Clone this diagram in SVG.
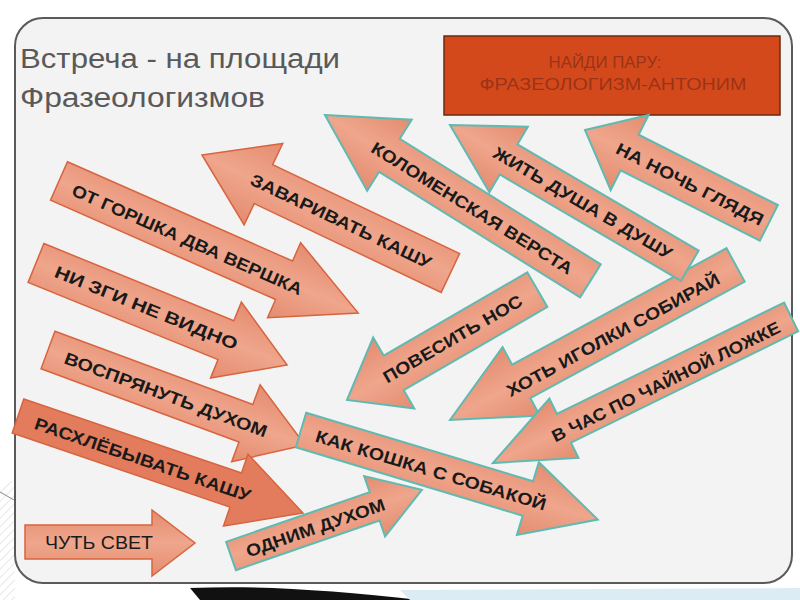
<svg xmlns="http://www.w3.org/2000/svg" width="800" height="600" viewBox="0 0 800 600">
<defs>
<linearGradient id="g" x1="0" y1="0" x2="0" y2="1">
<stop offset="0" stop-color="#e48c70"/><stop offset="0.5" stop-color="#efa68c"/><stop offset="1" stop-color="#e48c70"/>
</linearGradient>
<pattern id="hatch" width="6" height="6" patternUnits="userSpaceOnUse" patternTransform="rotate(45)">
<line x1="0" y1="0" x2="0" y2="6" stroke="#d0d0d0" stroke-width="1"/>
</pattern>
</defs>
<style>
.ao{fill:url(#g);stroke:#d8643f;stroke-width:1.5}
.at{fill:url(#g);stroke:#5fbab2;stroke-width:2}
.lbl{font-family:"Liberation Sans",Arial,sans-serif;font-weight:bold;font-size:17px;fill:#1a1a1a;text-anchor:middle}
.title{font-family:"Liberation Sans",Arial,sans-serif;font-size:27px;fill:#595959}
.box{font-family:"Liberation Sans",Arial,sans-serif;font-size:16px;fill:#9a3418;text-anchor:middle}
</style>
<rect width="800" height="600" fill="#ffffff"/>
<path d="M0,485 L15,480 L15,600 L0,600 Z" fill="url(#hatch)"/>
<path d="M0,492 L14,500" stroke="#888" stroke-width="1"/>
<path d="M190,588 C260,585 330,590 420,600 L200,600 Z" fill="#111"/>
<path d="M400,590 L800,588 L800,600 L410,600 Z" fill="#dcecf4"/>
<rect x="15" y="18" width="777" height="565" rx="28" ry="28" fill="#f3f3f3" stroke="#5a5a5a" stroke-width="2"/>
<text class="title" x="20" y="68" textLength="320" lengthAdjust="spacingAndGlyphs">Встреча - на площади</text>
<text class="title" x="20" y="107" textLength="245" lengthAdjust="spacingAndGlyphs">Фразеологизмов</text>
<g id="task">
<rect x="444" y="36" width="336" height="79" fill="#d4491b" stroke="#6b2a10" stroke-width="1.5"/>
<text class="box" x="605" y="68" textLength="113" lengthAdjust="spacingAndGlyphs">НАЙДИ ПАРУ:</text>
<text class="box" x="613" y="90" textLength="267" lengthAdjust="spacingAndGlyphs">ФРАЗЕОЛОГИЗМ-АНТОНИМ</text>
</g>
<g id="a-zavarivat" transform="translate(202,155) rotate(25.4)">
<path class="ao" d="M0,0 L68,-45 V-21.5 H275 V21.5 H68 V45 Z"/>
<text class="lbl" x="154" y="6" textLength="198" lengthAdjust="spacingAndGlyphs">ЗАВАРИВАТЬ  КАШУ</text>
</g>
<g id="a-gorshka" transform="translate(59,181) rotate(23.8)">
<path class="ao" d="M0,-21 H246 V-41 L327,0 L246,41 V21 H0 Z"/>
<text class="lbl" x="141" y="8" textLength="250" lengthAdjust="spacingAndGlyphs">ОТ ГОРШКА ДВА ВЕРШКА</text>
</g>
<g id="a-zgi" transform="translate(36,263) rotate(22.1)">
<path class="ao" d="M0,-21 H205 V-41 L271,0 L205,41 V21 H0 Z"/>
<text class="lbl" x="119" y="6" textLength="196" lengthAdjust="spacingAndGlyphs">НИ  ЗГИ  НЕ  ВИДНО</text>
</g>
<g id="a-kolomenskaya" transform="translate(325,115) rotate(32)">
<path class="at" d="M0,0 L76,-42 V-19.5 H313 V19.5 H76 V42 Z"/>
<text class="lbl" x="174" y="7" textLength="234" lengthAdjust="spacingAndGlyphs">КОЛОМЕНСКАЯ ВЕРСТА</text>
</g>
<g id="a-nanoch" transform="translate(585,130) rotate(26.8)">
<path class="at" d="M0,0 L50,-42 V-20 H206 V20 H50 V42 Z"/>
<text class="lbl" x="118" y="7" textLength="163" lengthAdjust="spacingAndGlyphs">НА НОЧЬ ГЛЯДЯ</text>
</g>
<g id="a-igolki" transform="translate(450,420) rotate(-28.5)">
<path class="at" d="M0,0 L81,-39 V-19 H325 V19 H81 V39 Z"/>
<text class="lbl" x="184" y="9" textLength="240" lengthAdjust="spacingAndGlyphs">ХОТЬ ИГОЛКИ СОБИРАЙ</text>
</g>
<g id="a-zhit" transform="translate(450,125) rotate(30.4)">
<path class="at" d="M0,0 L68,-38 V-17.5 H278 V17.5 H68 V38 Z"/>
<text class="lbl" x="154" y="6" textLength="204" lengthAdjust="spacingAndGlyphs">ЖИТЬ ДУША В ДУШУ</text>
</g>
<g id="a-povesit" transform="translate(347,400) rotate(-30.1)">
<path class="at" d="M0,0 L54,-41 V-20 H220 V20 H54 V41 Z"/>
<text class="lbl" x="122" y="6" textLength="158" lengthAdjust="spacingAndGlyphs">ПОВЕСИТЬ НОС</text>
</g>
<g id="a-vchas" transform="translate(493,463) rotate(-26.1)">
<path class="at" d="M0,0 L79,-33 V-16 H332 V16 H79 V33 Z"/>
<text class="lbl" x="191" y="9" textLength="252" lengthAdjust="spacingAndGlyphs">В ЧАС ПО ЧАЙНОЙ ЛОЖКЕ</text>
</g>
<g id="a-vospryanut" transform="translate(48,350) rotate(20.3)">
<path class="ao" d="M0,-20 H211 V-41 L274,0 L211,41 V20 H0 Z"/>
<text class="lbl" x="126" y="7" textLength="215" lengthAdjust="spacingAndGlyphs">ВОСПРЯНУТЬ ДУХОМ</text>
</g>
<g id="a-koshka" transform="translate(301,430) rotate(16.8)">
<path class="at" d="M0,-18 H237 V-38 L310,0 L237,38 V18 H0 Z"/>
<text class="lbl" x="136" y="7" textLength="240" lengthAdjust="spacingAndGlyphs">КАК  КОШКА  С  СОБАКОЙ</text>
</g>
<g id="a-rasxlebyvat" transform="translate(18,416) rotate(18.8)">
<path class="ao" d="M0,-18 H230 V-38 L301,0 L230,38 V18 H0 Z" style="fill:#e27c5c"/>
<text class="lbl" x="132" y="7" textLength="227" lengthAdjust="spacingAndGlyphs">РАСХЛЁБЫВАТЬ КАШУ</text>
</g>
<g id="a-odnim" transform="translate(231,556) rotate(-19.1)">
<path class="at" d="M0,-15 H152 V-32 L202,0 L152,32 V15 H0 Z"/>
<text class="lbl" x="89" y="7" textLength="146" lengthAdjust="spacingAndGlyphs">ОДНИМ ДУХОМ</text>
</g>
<g id="a-chut">
<path class="ao" d="M25,525 H152 V510 L195,543 L152,576 V559 H25 Z"/>
<text class="lbl" x="99" y="549" textLength="108" lengthAdjust="spacingAndGlyphs" style="font-weight:normal;font-size:18px">ЧУТЬ СВЕТ</text>
</g>
</svg>
